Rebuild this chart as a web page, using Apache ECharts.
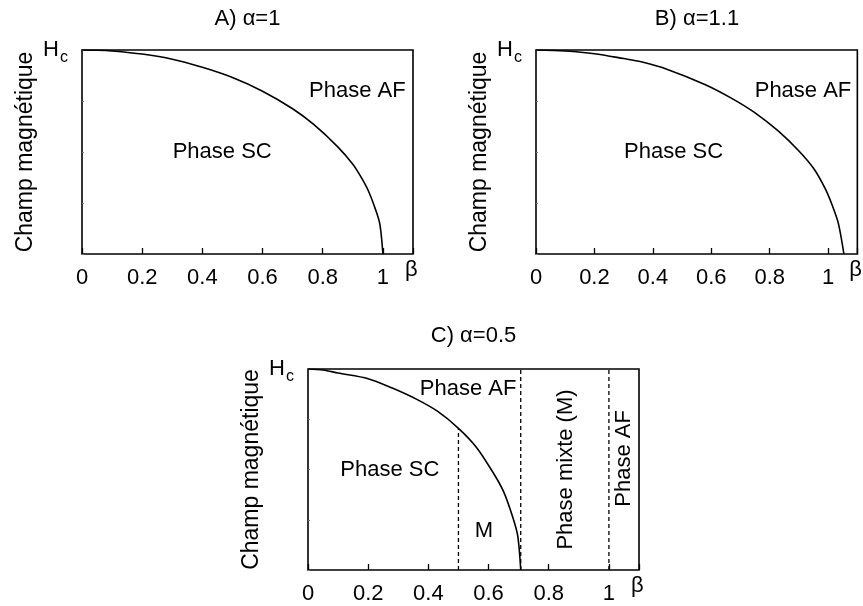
<!DOCTYPE html>
<html>
<head>
<meta charset="utf-8">
<script src="https://cdn.jsdelivr.net/npm/echarts@6/dist/echarts.min.js"></script>
<style>
  html, body { margin: 0; padding: 0; background: #fff; }
  #main { width: 863px; height: 606px; }
</style>
</head>
<body>
<div id="main"></div>
<script>
// SC / AF boundary, pairs of [beta, H / Hc]
var curveA = [[0, 1], [0.05, 0.999], [0.1, 0.995], [0.2, 0.98], [0.3, 0.955], [0.4, 0.915],
  [0.5, 0.865], [0.6, 0.798], [0.7, 0.712], [0.77, 0.635], [0.85, 0.525], [0.9, 0.44],
  [0.925, 0.383], [0.95, 0.315], [0.975, 0.22], [0.99, 0.145], [1.0, 0]];
var curveB = [[0, 1], [0.1, 0.995], [0.2, 0.982], [0.3, 0.958], [0.36, 0.942], [0.45, 0.905],
  [0.58, 0.83], [0.67, 0.763], [0.75, 0.692], [0.83, 0.602], [0.9, 0.505], [0.95, 0.42],
  [0.99, 0.32], [1.015, 0.235], [1.035, 0.15], [1.054, 0]];
var curveC = [[0, 1], [0.05, 0.995], [0.1, 0.98], [0.2, 0.952], [0.28, 0.905], [0.36, 0.85],
  [0.43, 0.79], [0.5, 0.705], [0.56, 0.61], [0.615, 0.485], [0.65, 0.39], [0.68, 0.265],
  [0.697, 0.17], [0.707, 0]];
// dashed phase limits in panel C
var dashC = [[[0.5, 0], [0.5, 0.705]], [[0.707, 0], [0.707, 1]], [[1.0, 0], [1.0, 1]]];

var titles = ['A) α=1', 'B) α=1.1', 'C) α=0.5'];
var labelsA = [['Phase AF', 0.915, 0.8], ['Phase SC', 0.466, 0.5]];
var labelsB = [['Phase AF', 0.914, 0.8], ['Phase SC', 0.471, 0.5]];
var labelsC = [['Phase AF', 0.532, 0.9], ['Phase SC', 0.272, 0.5], ['M', 0.585, 0.196]];
var labelsCRot = [['Phase mixte (M)', 0.856, 0.5], ['Phase AF', 1.05, 0.555]];
var xMax = 1.1;
var xStep = 0.2;
var yStep = 0.25;

var font = 'Liberation Sans, Arial, Helvetica, sans-serif';
var ink = '#000';

var grids = [
  { left: 82, top: 50, width: 331, height: 204 },
  { left: 536, top: 50, width: 322, height: 204 },
  { left: 308, top: 369, width: 331, height: 201 }
];
var titleTops = [8, 8, 325];

var myChart = echarts.init(document.getElementById('main'));

var option = {
  backgroundColor: '#fff',
  animation: false,
  textStyle: { fontFamily: font, color: ink },
  title: [],
  grid: [],
  xAxis: [],
  yAxis: [],
  series: []
};

grids.forEach(function (g, i) {
  option.title.push({
    text: titles[i],
    left: g.left + g.width / 2,
    top: titleTops[i],
    textAlign: 'center',
    padding: 0,
    textStyle: { fontFamily: font, fontSize: 22, fontWeight: 'normal', color: ink }
  });
  option.grid.push({
    left: g.left, top: g.top, width: g.width, height: g.height,
    show: true, borderColor: ink, borderWidth: 1.6, backgroundColor: 'transparent'
  });
  option.xAxis.push({
    gridIndex: i, type: 'value', min: 0, max: xMax, interval: xStep,
    name: 'β', nameLocation: 'end', nameGap: -8,
    nameTextStyle: { fontFamily: font, fontSize: 22, color: ink, verticalAlign: 'top', padding: [5, 0, 0, 0] },
    axisLine: { show: false },
    axisTick: { inside: true, length: 6, lineStyle: { color: ink, width: 1.3 } },
    splitLine: { show: false },
    axisLabel: {
      margin: 13, fontFamily: font, fontSize: 22, color: ink,
      formatter: function (v) { return v > 1.05 ? '' : String(Math.round(v * 10) / 10); }
    }
  });
  option.yAxis.push({
    gridIndex: i, type: 'value', min: 0, max: 1, interval: yStep,
    name: 'Champ magnétique', nameLocation: 'middle', nameGap: 45,
    nameTextStyle: { fontFamily: font, fontSize: 23, color: ink },
    axisLine: { show: false },
    axisTick: { inside: true, length: 2, lineStyle: { color: '#777', width: 1 } },
    splitLine: { show: false },
    axisLabel: {
      margin: 14, color: ink,
      formatter: function (v) { return v === 1 ? '{h|H}{s|c}' : ''; },
      rich: {
        h: { fontFamily: font, fontSize: 22, color: ink },
        s: { fontFamily: font, fontSize: 16, color: ink, padding: [16, 0, 0, 1] }
      }
    }
  });
});

function curveSeries(data, i) {
  return {
    type: 'line', xAxisIndex: i, yAxisIndex: i, data: data,
    showSymbol: false, smooth: 0.3, silent: true,
    lineStyle: { color: ink, width: 1.6 }
  };
}

function labelSeries(items, i, rotate) {
  return {
    type: 'scatter', xAxisIndex: i, yAxisIndex: i, symbolSize: 0, silent: true,
    itemStyle: { opacity: 1 },
    data: items.map(function (t) { return { name: t[0], value: [t[1], t[2]] }; }),
    label: {
      show: true, position: 'inside', formatter: '{b}', rotate: rotate || 0,
      fontFamily: font, fontSize: 22, color: ink, opacity: 1, textBorderWidth: 0
    }
  };
}

option.series.push(curveSeries(curveA, 0));
option.series.push(curveSeries(curveB, 1));
option.series.push(curveSeries(curveC, 2));

dashC.forEach(function (seg) {
  option.series.push({
    type: 'line', xAxisIndex: 2, yAxisIndex: 2, data: seg,
    showSymbol: false, silent: true,
    lineStyle: { color: ink, width: 1.3, type: [4, 3] }
  });
});

option.series.push(labelSeries(labelsA, 0));
option.series.push(labelSeries(labelsB, 1));
option.series.push(labelSeries(labelsC, 2));
option.series.push(labelSeries(labelsCRot, 2, 90));

myChart.setOption(option);
</script>
</body>
</html>
